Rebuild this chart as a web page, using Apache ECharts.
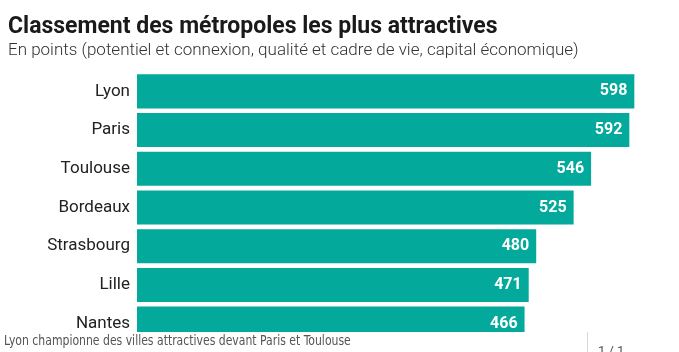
<!DOCTYPE html>
<html>
<head>
<meta charset="utf-8">
<style>html,body{margin:0;padding:0;background:#fff;}#chart{width:679px;height:352px;}</style>
<script src="https://cdn.jsdelivr.net/npm/echarts@6/dist/echarts.min.js"></script>
</head>
<body>
<div id="chart"></div>
<script>
const categories = ["Lyon", "Paris", "Toulouse", "Bordeaux", "Strasbourg", "Lille", "Nantes"];
const values = [598, 592, 546, 525, 480, 471, 466];
const titleText = "Classement des métropoles les plus attractives";
const subtitleText = "En points (potentiel et connexion, qualité et cadre de vie, capital économique)";
const captionText = "Lyon championne des villes attractives devant Paris et Toulouse";
const pagerText = "1 / 1";

const chart = echarts.init(document.getElementById('chart'), null, {renderer: 'canvas'});
chart.setOption({
  animation: false,
  backgroundColor: '#ffffff',
  title: {
    text: titleText,
    subtext: subtitleText,
    left: 3,
    top: 11,
    itemGap: 3,
    textStyle: {fontFamily: 'Roboto', fontWeight: 'bold', fontSize: 23, color: '#1a1a1a'},
    subtextStyle: {fontFamily: 'Roboto', fontWeight: 300, fontSize: 17, color: '#333333'}
  },
  grid: {left: 137, right: 43, top: 72, bottom: 9, containLabel: false},
  xAxis: {
    type: 'value', min: 0, max: 600, show: false
  },
  yAxis: {
    type: 'category', data: categories, inverse: true,
    axisLine: {show: false}, axisTick: {show: false},
    axisLabel: {fontFamily: 'Roboto', fontSize: 17, color: '#222222', margin: 7, padding: [3, 0, 0, 0]}
  },
  series: [{
    type: 'bar', data: values, barCategoryGap: '12%',
    itemStyle: {color: '#03aa9c'},
    label: {
      show: true, position: 'insideRight', distance: 7,
      fontFamily: 'Roboto', fontWeight: 'bold', fontSize: 16, color: '#ffffff'
    }
  }],
  graphic: [
    {type: 'rect', left: 0, top: 332, shape: {width: 679, height: 20}, style: {fill: '#ffffff'}, z: 100},
    {type: 'text', x: 4, y: 334, scaleX: 0.863, z: 101,
     style: {text: captionText, fontFamily: '"DejaVu Sans Condensed", sans-serif', fontSize: 14, fill: '#555555'}},
    {type: 'rect', left: 587, top: 332, shape: {width: 1, height: 20}, style: {fill: '#d8d8d8'}, z: 101},
    {type: 'text', left: 598, top: 345, z: 101,
     style: {text: pagerText, fontFamily: 'Roboto', fontSize: 13, fill: '#555555'}}
  ]
});
</script>
</body>
</html>
